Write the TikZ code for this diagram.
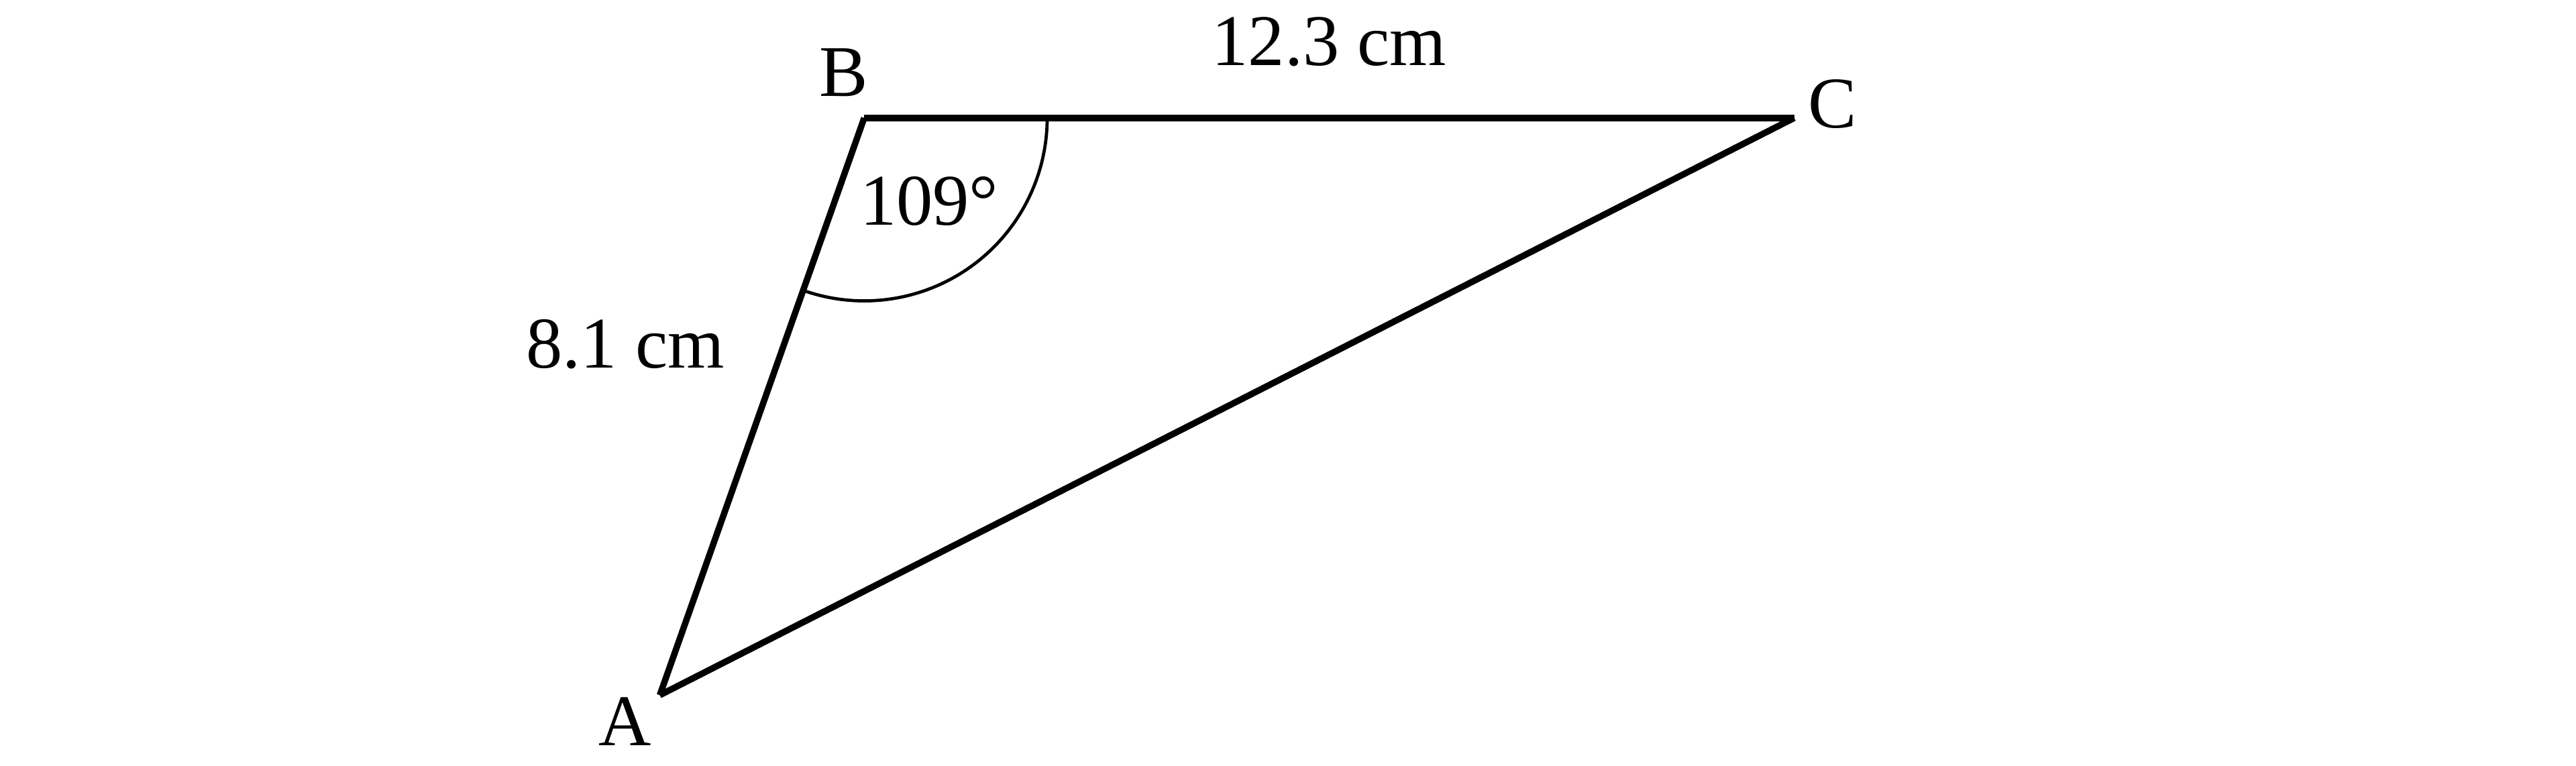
\documentclass[tikz,border=0pt]{standalone}
\usepackage{fontspec}
\setmainfont{Liberation Serif}
\usetikzlibrary{calc}
\begin{document}
\begin{tikzpicture}[
  side/.style={line width=2.4pt},
  anglearc/.style={line width=1.2pt},
  lbl/.style={inner sep=0pt, font=\fontsize{27.4}{33}\selectfont}
]
\useasboundingbox (0,0) rectangle (34.07,10.13);
\coordinate (B) at (11.43,8.57);
\coordinate (C) at ($(B)+(12.3,0)$);
\coordinate (A) at ($(B)+(-109.5:8.1)$);
\draw[side] (B) -- (C);
\draw[side] (C) -- (A);
\draw[side] (A) -- (B);
\draw[anglearc] ($(B)+(2.42,0)$) arc[start angle=0, end angle=-109.5, radius=2.42];
\node[lbl] (lB) at ($(B)+(-0.27,0.60)$) {B};
\node[lbl] (lC) at ($(C)+(0.51,0.18)$) {C};
\node[lbl] (lA) at ($(A)+(-0.46,-0.35)$) {A};
\node[lbl] (lBC) at ($(B)!0.5!(C)+(0,1.01)$) {12.3 cm};
\node[lbl] (lAB) at ($(A)!0.5!(B)+(-1.81,0.82)$) {8.1 cm};
\node[lbl] (lang) at ($(B)+(0.86,-1.10)$) {109°};
\end{tikzpicture}
\end{document}
